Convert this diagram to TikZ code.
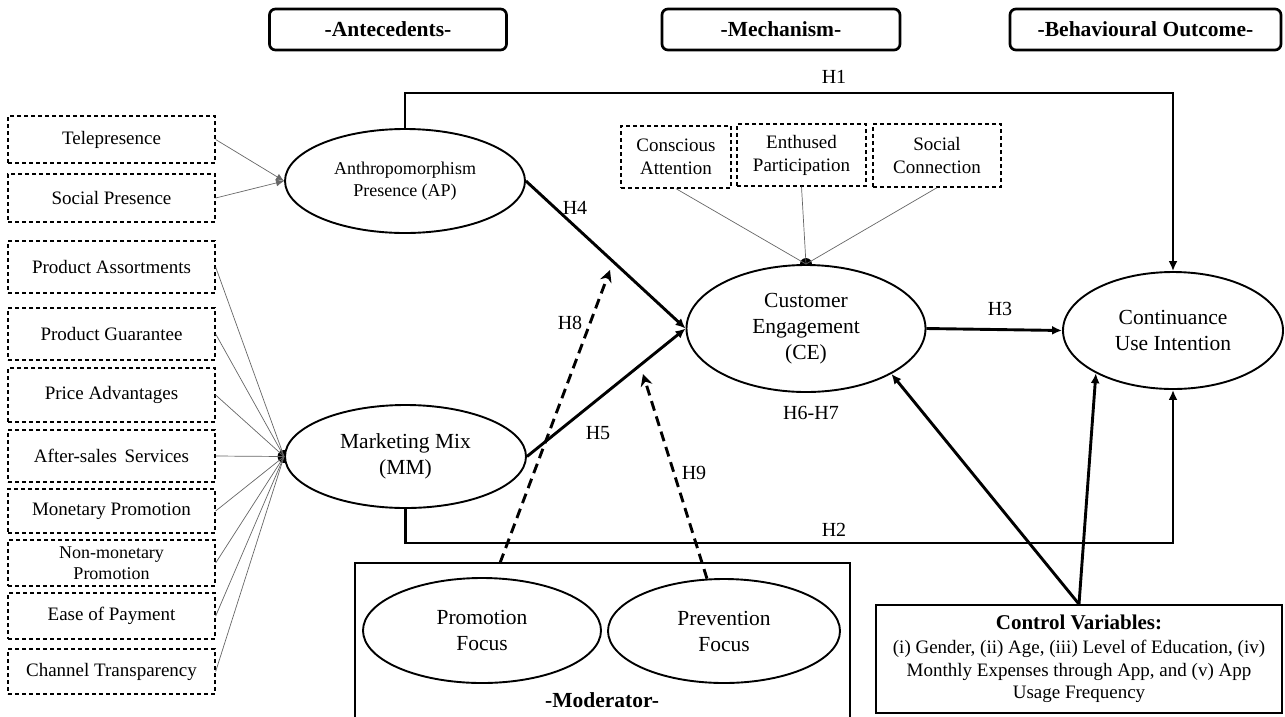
\documentclass[tikz,border=0pt]{standalone}
\usepackage{fontspec}
\setmainfont{Liberation Serif}
\usetikzlibrary{arrows.meta,shapes.geometric,backgrounds}
\newcommand\fsz[2]{\fontsize{#1}{#2}\selectfont}
\begin{document}
\begin{tikzpicture}[x=1pt,y=-1pt,
 hdr/.style={draw,rounded corners=6pt,line width=2.7pt,minimum height=41pt,inner sep=0pt,font=\fsz{21.5}{24}\bfseries},
 ind/.style={draw,dash pattern=on 4pt off 3pt,line width=1.3pt,minimum width=207pt,inner sep=0pt,align=center,font=\fsz{19}{22}},
 sub/.style={draw,dash pattern=on 4pt off 3pt,line width=1.3pt,inner sep=0pt,align=center,font=\fsz{19}{23}},
 lat/.style={ellipse,draw,line width=1.9pt,fill=white,inner sep=0pt,align=center},
 big/.style={font=\fsz{21.5}{26}},
 lbl/.style={font=\fsz{20}{24},inner sep=0pt},
 hyp/.style={line width=2.9pt,-{Latex[length=10pt,width=9pt]}},
 modarrow/.style={line width=2.9pt,dash pattern=on 10pt off 6pt,-{Stealth[length=12pt,width=12pt,inset=4pt]}},
 fine/.style={line width=0.7pt,draw=black!60},
 framebox/.style={draw,line width=1.7pt,inner sep=0pt}
]
\useasboundingbox (0,0) rectangle (1285,716);

% headers
\node[hdr,minimum width=237pt] (hant) at (388,29.5) {-Antecedents-};
\node[hdr,minimum width=238pt] (hmec) at (781,29.5) {-Mechanism-};
\node[hdr,minimum width=271pt] (hbeh) at (1145.5,29.5) {-Behavioural Outcome-};

% left indicator boxes
\node[ind,minimum height=47pt] (tele) at (111.5,139.5) {Telepresence};
\node[ind,minimum height=48pt] (soc) at (111.5,198) {Social Presence};
\node[ind,minimum height=52pt] (pa) at (111.5,267) {Product Assortments};
\node[ind,minimum height=52pt] (pg) at (111.5,334) {Product Guarantee};
\node[ind,minimum height=54pt] (pr) at (111.5,395) {Price Advantages};
\node[ind,minimum height=52pt] (as) at (111.5,456) {After-sales\hspace{3pt} Services};
\node[ind,minimum height=44pt] (mp) at (111.5,511) {Monetary Promotion};
\node[ind,minimum height=46pt,font=\fsz{18}{21}] (nm) at (111.5,563) {Non-monetary\\Promotion};
\node[ind,minimum height=46pt] (ep) at (111.5,616) {Ease of Payment};
\node[ind,minimum height=45pt] (ct) at (111.5,671.5) {Channel Transparency};

% moderator frame (behind its ellipses)
\node[framebox,minimum width=495pt,minimum height=160pt] (modbox) at (602.5,643) {};

% latent constructs
\node[lat,minimum width=240pt,minimum height=104pt,font=\fsz{18}{21.5}] (ap) at (405,181) {Anthropomorphism\\Presence (AP)};
\node[lat,big,minimum width=241pt,minimum height=103pt] (mm) at (405.5,456.5) {Marketing Mix\\(MM)};
\node[lat,big,minimum width=239pt,minimum height=127pt] (ce) at (806,328.5) {Customer\\Engagement\\(CE)};
\node[lat,big,minimum width=220pt,minimum height=117pt] (cui) at (1173,330.5) {Continuance\\Use Intention};
\node[lat,big,minimum width=238pt,minimum height=105pt] (prom) at (482,630.5) {Promotion\\Focus};
\node[lat,big,minimum width=232pt,minimum height=104pt] (prev) at (724,631) {Prevention\\Focus};
\node[font=\fsz{21.5}{24}\bfseries] (modlbl) at (602,700) {-Moderator-};

% engagement dimensions
\node[sub,minimum width=110pt,minimum height=62pt] (ca) at (676,157) {Conscious\\Attention};
\node[sub,minimum width=129pt,minimum height=62pt] (enp) at (801.5,155) {Enthused\\Participation};
\node[sub,minimum width=128pt,minimum height=63pt] (sc) at (937,155.5) {Social\\Connection};

% control variables
\node[framebox,minimum width=406pt,minimum height=108pt,align=center,font=\fsz{19}{22.5}] (ctrl) at (1079,659)
 {{\fsz{21}{24}\bfseries Control Variables:}\\[2pt](i) Gender, (ii) Age, (iii) Level of Education, (iv)\\Monthly Expenses through App, and (v) App\\Usage Frequency};

% helper coordinates
\coordinate (h1) at (834,93);
\coordinate (h2) at (834,543);
\coordinate (h8s) at (500,563);
\coordinate (h8e) at (610,270);
\coordinate (h9e) at (643,374);

% dots behind ellipses
\begin{scope}[on background layer]
\fill (ce.north) circle (6pt);
\fill (mm.west) circle (6.5pt);
\end{scope}

% thin indicator lines
\foreach \b in {tele,soc} \draw[fine,-{Latex[length=8pt,width=7pt]}] (\b.east) -- (ap.west);
\foreach \b in {pa,pg,pr,as,mp,nm,ep,ct} \draw[fine] (\b.east) -- (mm.west);
\foreach \b in {ca,enp,sc} \draw[fine] (\b.south) -- (ce.north);

% hypotheses
\draw[hyp] (ap.north) |- (h1) -| (cui.north);
\draw[hyp] (mm.south) |- (h2) -| (cui.south);
\draw[hyp] (ce.east) -- (cui.west);
\draw[hyp] (ap.east) -- (ce.west);
\draw[hyp] (mm.east) -- (ce.west);
\draw[modarrow] (h8s) -- (h8e);
\draw[modarrow] (prev.108) -- (h9e);
\draw[hyp] (ctrl.north) -- (ce.-28);
\draw[hyp] (ctrl.north) -- (cui.-151);

% labels
\node[lbl] (lh1) at (834,77) {H1};
\node[lbl] (lh2) at (834,530) {H2};
\node[lbl] (lh3) at (1000,309) {H3};
\node[lbl] (lh4) at (575,208) {H4};
\node[lbl] (lh5) at (598,433) {H5};
\node[lbl] (lh67) at (811,413) {H6-H7};
\node[lbl] (lh8) at (570,323) {H8};
\node[lbl] (lh9) at (694,473) {H9};
\end{tikzpicture}
\end{document}
